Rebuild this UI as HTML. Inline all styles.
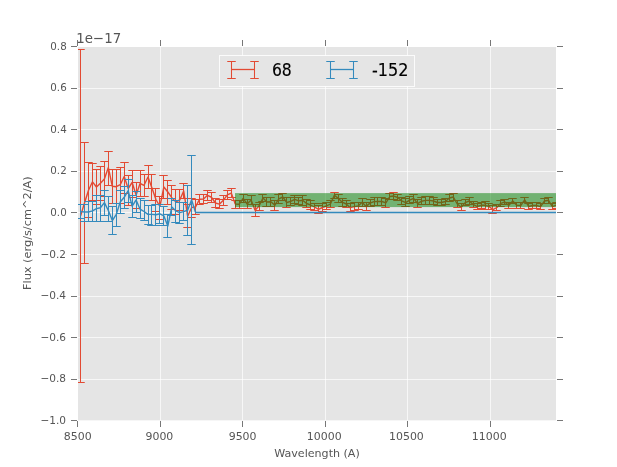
<!DOCTYPE html>
<html lang="en">
<head>
<meta charset="utf-8">
<title>Flux vs Wavelength</title>
<style>
html,body{margin:0;padding:0;background:#fff;}
body{width:617px;height:467px;overflow:hidden;}
svg{display:block;}
text{font-family:"DejaVu Sans", "Liberation Sans", sans-serif;}
.tick{font-size:10.75px;fill:#555555;}
.lab{font-size:11.1px;fill:#555555;}
.ylab{font-size:10.9px;fill:#555555;}
.off{font-size:14.3px;fill:#555555;}
.leg{font-size:17.4px;fill:#000000;stroke:#000000;stroke-width:0.15px;}
</style>
</head>
<body>
<svg width="617" height="467" viewBox="0 0 617 467">
<defs><clipPath id="axclip"><rect x="78" y="47" width="478" height="373.35"/></clipPath>
</defs>
<rect width="617" height="467" fill="#ffffff"/>
<g>
<rect x="78" y="47" width="478" height="373.35" fill="#E5E5E5"/>
<path clip-path="url(#axclip)" d="M160.5 47V420.35M242.5 47V420.35M325.5 47V420.35M407.5 47V420.35M490.5 47V420.35M78 88.5H556M78 129.5H556M78 171.5H556M78 212.5H556M78 254.5H556M78 296.5H556M78 337.5H556M78 379.5H556" stroke="#ffffff" stroke-opacity="0.7" stroke-width="1" fill="none"/>
<path d="M77.5 421v6M77.5 46v-6M160.5 421v6M160.5 46v-6M242.5 421v6M242.5 46v-6M325.5 421v6M325.5 46v-6M407.5 421v6M407.5 46v-6M490.5 421v6M490.5 46v-6M77 46.5h-6M557 46.5h6M77 88.5h-6M557 88.5h6M77 129.5h-6M557 129.5h6M77 171.5h-6M557 171.5h6M77 212.5h-6M557 212.5h6M77 254.5h-6M557 254.5h6M77 296.5h-6M557 296.5h6M77 337.5h-6M557 337.5h6M77 379.5h-6M557 379.5h6M77 420.5h-6M557 420.5h6" stroke="#555555" stroke-opacity="0.8" stroke-width="1" fill="none"/>
<g clip-path="url(#axclip)" fill="none" stroke="#E24A33">
<polyline stroke-width="1.4" stroke-linejoin="round" points="80.6,215.9 84.56,202.8 88.53,190.3 92.49,181.8 96.46,187 100.42,183.3 104.39,179 108.35,167.6 112.32,186.3 116.28,186.7 120.25,184.7 124.21,176.5 128.18,188.5 132.14,182.5 136.11,195 140.07,183.5 144.04,185.3 148,177 151.97,188 155.94,199.5 159.9,206.5 163.87,187 167.83,192 171.79,197.7 175.76,201.8 179.72,200 183.69,191 187.65,216.2 191.62,207.5 195.58,206.9 199.55,199.2 203.51,199 207.48,195.3 211.44,197.25 215.41,203 219.38,204.2 223.34,200.3 227.3,194.9 231.27,193.05 235.23,204.1 239.2,204.2 243.16,198.35 247.13,204 251.09,200.1 255.06,210.3 259.02,206 262.99,198 266.95,202 270.92,201.8 274.88,205.2 278.85,198.9 282.81,197 286.78,202.5 290.75,201.4 294.71,199.3 298.67,200.9 302.64,200.3 306.61,203.5 310.57,205 314.53,207 318.5,209.3 322.46,207.5 326.43,206 330.39,204 334.36,195.2 338.32,198.4 342.29,202.2 346.25,204 350.22,207.7 354.18,206.6 358.15,206 362.12,202.3 366.08,206.4 370.04,203.1 374.01,201.6 377.98,201.5 381.94,201.5 385.9,202.9 389.87,196.5 393.84,196.05 397.8,197.5 401.76,200.9 405.73,202.6 409.69,200.1 413.66,198.4 417.62,203.6 421.59,201.2 425.55,200.4 429.52,200.4 433.49,201 437.45,202.5 441.41,202.5 445.38,201.5 449.35,198 453.31,197 457.27,204 461.24,207.2 465.2,202.6 469.17,201 473.13,204.35 477.1,206.5 481.06,205.3 485.03,205.3 489,206.45 492.96,209.6 496.92,207.5 500.89,203.3 504.86,201.9 508.82,205.4 512.78,201 516.75,205.3 520.72,205.5 524.68,199.9 528.64,206.5 532.61,205.5 536.57,205.5 540.54,206.6 544.5,201 548.47,200.3 552.43,206.6 556.4,205.2"/>
<path stroke-width="1.05" d="M80.5 49.5V382.5M84.5 142.5V263.5M88.5 162.5V217.5M92.5 163.5V200.5M96.5 169.5V204.5M100.5 166.5V200.5M104.5 161.5V196.5M108.5 151.5V185.5M112.5 169.5V203.5M116.5 169.5V203.5M120.5 167.5V203.5M124.5 162.5V193.5M128.5 175.5V205.5M132.5 170.5V197.5M136.5 182.5V208.5M140.5 170.5V196.5M144.5 174.5V196.5M148.5 165.5V188.5M151.5 174.5V200.5M155.5 188.5V211.5M159.5 196.5V219.5M163.5 175.5V198.5M167.5 180.5V204.5M171.5 185.5V209.5M175.5 189.5V214.5M179.5 189.5V210.5M183.5 183.5V198.5M187.5 204.5V227.5M191.5 198.5V217.5M195.5 199.5V214.5M199.5 194.5V204.5M203.5 194.5V203.5M207.5 190.5V200.5M211.5 192.5V202.5M215.5 198.5V207.5M219.5 199.5V208.5M223.5 195.5V205.5M227.5 190.5V199.5M231.5 188.5V197.5M235.5 200.5V208.5M239.5 200.5V208.5M243.5 194.5V202.5M247.5 199.5V208.5M251.5 195.5V204.5M255.5 204.5V216.5M259.5 202.5V210.5M262.5 194.5V201.5M266.5 197.5V206.5M270.5 197.5V206.5M274.5 200.5V210.5M278.5 194.5V203.5M282.5 193.5V200.5M286.5 197.5V207.5M290.5 197.5V205.5M294.5 195.5V203.5M298.5 197.5V204.5M302.5 195.5V205.5M306.5 199.5V207.5M310.5 200.5V209.5M314.5 203.5V210.5M318.5 205.5V213.5M322.5 203.5V211.5M326.5 202.5V209.5M330.5 200.5V207.5M334.5 192.5V198.5M338.5 194.5V202.5M342.5 198.5V206.5M346.5 200.5V207.5M350.5 203.5V211.5M354.5 202.5V210.5M358.5 202.5V209.5M362.5 198.5V206.5M366.5 202.5V210.5M370.5 199.5V206.5M374.5 197.5V205.5M377.5 197.5V205.5M381.5 197.5V205.5M385.5 198.5V207.5M389.5 193.5V199.5M393.5 192.5V199.5M397.5 194.5V200.5M401.5 197.5V204.5M405.5 198.5V206.5M409.5 196.5V203.5M413.5 194.5V202.5M417.5 199.5V207.5M421.5 197.5V204.5M425.5 196.5V204.5M429.5 196.5V204.5M433.5 197.5V204.5M437.5 199.5V205.5M441.5 199.5V205.5M445.5 198.5V204.5M449.5 194.5V201.5M453.5 193.5V200.5M457.5 200.5V207.5M461.5 203.5V210.5M465.5 199.5V205.5M469.5 197.5V204.5M473.5 201.5V207.5M477.5 203.5V209.5M481.5 202.5V208.5M485.5 201.5V209.5M488.5 203.5V209.5M492.5 205.5V213.5M496.5 204.5V210.5M500.5 200.5V206.5M504.5 199.5V204.5M508.5 202.5V208.5M512.5 198.5V203.5M516.5 202.5V208.5M520.5 202.5V208.5M524.5 197.5V202.5M528.5 203.5V209.5M532.5 202.5V208.5M536.5 202.5V208.5M540.5 203.5V209.5M544.5 198.5V203.5M548.5 197.5V203.5M552.5 203.5V209.5M556.5 202.5V208.5"/>
<path stroke-width="1.05" d="M76.25 49.5H84.75M76.25 382.5H84.75M80.25 142.5H88.75M80.25 263.5H88.75M84.25 162.5H92.75M84.25 217.5H92.75M88.25 163.5H96.75M88.25 200.5H96.75M92.25 169.5H100.75M92.25 204.5H100.75M96.25 166.5H104.75M96.25 200.5H104.75M100.25 161.5H108.75M100.25 196.5H108.75M104.25 151.5H112.75M104.25 185.5H112.75M108.25 169.5H116.75M108.25 203.5H116.75M112.25 169.5H120.75M112.25 203.5H120.75M116.25 167.5H124.75M116.25 203.5H124.75M120.25 162.5H128.75M120.25 193.5H128.75M124.25 175.5H132.75M124.25 205.5H132.75M128.25 170.5H136.75M128.25 197.5H136.75M132.25 182.5H140.75M132.25 208.5H140.75M136.25 170.5H144.75M136.25 196.5H144.75M140.25 174.5H148.75M140.25 196.5H148.75M144.25 165.5H152.75M144.25 188.5H152.75M147.25 174.5H155.75M147.25 200.5H155.75M151.25 188.5H159.75M151.25 211.5H159.75M155.25 196.5H163.75M155.25 219.5H163.75M159.25 175.5H167.75M159.25 198.5H167.75M163.25 180.5H171.75M163.25 204.5H171.75M167.25 185.5H175.75M167.25 209.5H175.75M171.25 189.5H179.75M171.25 214.5H179.75M175.25 189.5H183.75M175.25 210.5H183.75M179.25 183.5H187.75M179.25 198.5H187.75M183.25 204.5H191.75M183.25 227.5H191.75M187.25 198.5H195.75M187.25 217.5H195.75M191.25 199.5H199.75M191.25 214.5H199.75M195.25 194.5H203.75M195.25 204.5H203.75M199.25 194.5H207.75M199.25 203.5H207.75M203.25 190.5H211.75M203.25 200.5H211.75M207.25 192.5H215.75M207.25 202.5H215.75M211.25 198.5H219.75M211.25 207.5H219.75M215.25 199.5H223.75M215.25 208.5H223.75M219.25 195.5H227.75M219.25 205.5H227.75M223.25 190.5H231.75M223.25 199.5H231.75M227.25 188.5H235.75M227.25 197.5H235.75M231.25 200.5H239.75M231.25 208.5H239.75M235.25 200.5H243.75M235.25 208.5H243.75M239.25 194.5H247.75M239.25 202.5H247.75M243.25 199.5H251.75M243.25 208.5H251.75M247.25 195.5H255.75M247.25 204.5H255.75M251.25 204.5H259.75M251.25 216.5H259.75M255.25 202.5H263.75M255.25 210.5H263.75M258.25 194.5H266.75M258.25 201.5H266.75M262.25 197.5H270.75M262.25 206.5H270.75M266.25 197.5H274.75M266.25 206.5H274.75M270.25 200.5H278.75M270.25 210.5H278.75M274.25 194.5H282.75M274.25 203.5H282.75M278.25 193.5H286.75M278.25 200.5H286.75M282.25 197.5H290.75M282.25 207.5H290.75M286.25 197.5H294.75M286.25 205.5H294.75M290.25 195.5H298.75M290.25 203.5H298.75M294.25 197.5H302.75M294.25 204.5H302.75M298.25 195.5H306.75M298.25 205.5H306.75M302.25 199.5H310.75M302.25 207.5H310.75M306.25 200.5H314.75M306.25 209.5H314.75M310.25 203.5H318.75M310.25 210.5H318.75M314.25 205.5H322.75M314.25 213.5H322.75M318.25 203.5H326.75M318.25 211.5H326.75M322.25 202.5H330.75M322.25 209.5H330.75M326.25 200.5H334.75M326.25 207.5H334.75M330.25 192.5H338.75M330.25 198.5H338.75M334.25 194.5H342.75M334.25 202.5H342.75M338.25 198.5H346.75M338.25 206.5H346.75M342.25 200.5H350.75M342.25 207.5H350.75M346.25 203.5H354.75M346.25 211.5H354.75M350.25 202.5H358.75M350.25 210.5H358.75M354.25 202.5H362.75M354.25 209.5H362.75M358.25 198.5H366.75M358.25 206.5H366.75M362.25 202.5H370.75M362.25 210.5H370.75M366.25 199.5H374.75M366.25 206.5H374.75M370.25 197.5H378.75M370.25 205.5H378.75M373.25 197.5H381.75M373.25 205.5H381.75M377.25 197.5H385.75M377.25 205.5H385.75M381.25 198.5H389.75M381.25 207.5H389.75M385.25 193.5H393.75M385.25 199.5H393.75M389.25 192.5H397.75M389.25 199.5H397.75M393.25 194.5H401.75M393.25 200.5H401.75M397.25 197.5H405.75M397.25 204.5H405.75M401.25 198.5H409.75M401.25 206.5H409.75M405.25 196.5H413.75M405.25 203.5H413.75M409.25 194.5H417.75M409.25 202.5H417.75M413.25 199.5H421.75M413.25 207.5H421.75M417.25 197.5H425.75M417.25 204.5H425.75M421.25 196.5H429.75M421.25 204.5H429.75M425.25 196.5H433.75M425.25 204.5H433.75M429.25 197.5H437.75M429.25 204.5H437.75M433.25 199.5H441.75M433.25 205.5H441.75M437.25 199.5H445.75M437.25 205.5H445.75M441.25 198.5H449.75M441.25 204.5H449.75M445.25 194.5H453.75M445.25 201.5H453.75M449.25 193.5H457.75M449.25 200.5H457.75M453.25 200.5H461.75M453.25 207.5H461.75M457.25 203.5H465.75M457.25 210.5H465.75M461.25 199.5H469.75M461.25 205.5H469.75M465.25 197.5H473.75M465.25 204.5H473.75M469.25 201.5H477.75M469.25 207.5H477.75M473.25 203.5H481.75M473.25 209.5H481.75M477.25 202.5H485.75M477.25 208.5H485.75M481.25 201.5H489.75M481.25 209.5H489.75M484.25 203.5H492.75M484.25 209.5H492.75M488.25 205.5H496.75M488.25 213.5H496.75M492.25 204.5H500.75M492.25 210.5H500.75M496.25 200.5H504.75M496.25 206.5H504.75M500.25 199.5H508.75M500.25 204.5H508.75M504.25 202.5H512.75M504.25 208.5H512.75M508.25 198.5H516.75M508.25 203.5H516.75M512.25 202.5H520.75M512.25 208.5H520.75M516.25 202.5H524.75M516.25 208.5H524.75M520.25 197.5H528.75M520.25 202.5H528.75M524.25 203.5H532.75M524.25 209.5H532.75M528.25 202.5H536.75M528.25 208.5H536.75M532.25 202.5H540.75M532.25 208.5H540.75M536.25 203.5H544.75M536.25 209.5H544.75M540.25 198.5H548.75M540.25 203.5H548.75M544.25 197.5H552.75M544.25 203.5H552.75M548.25 203.5H556.75M548.25 209.5H556.75M552.25 202.5H560.75M552.25 208.5H560.75"/>
</g>
<g clip-path="url(#axclip)" fill="none" stroke="#348ABD">
<polyline stroke-width="1.4" stroke-linejoin="round" points="80.6,211.6 84.56,212 88.53,212 92.49,210.8 96.46,208.6 100.42,207.7 104.39,202.6 108.35,210.5 112.32,220.6 116.28,214.3 120.25,202 124.21,197.3 128.18,190.7 132.14,206.2 136.11,200 140.07,209.2 144.04,211.5 148,214.4 151.97,214.4 155.94,214.7 159.9,213.8 163.87,215.9 167.83,226.1 171.79,207 175.76,210.8 179.72,212.7 183.69,211.6 187.65,210.2 191.62,199.85 195.58,212.5 199.55,212.5 203.51,212.5 207.48,212.5 211.44,212.5 215.41,212.5 219.38,212.5 223.34,212.5 227.3,212.5 231.27,212.5 235.23,212.5 239.2,212.5 243.16,212.5 247.13,212.5 251.09,212.5 255.06,212.5 259.02,212.5 262.99,212.5 266.95,212.5 270.92,212.5 274.88,212.5 278.85,212.5 282.81,212.5 286.78,212.5 290.75,212.5 294.71,212.5 298.67,212.5 302.64,212.5 306.61,212.5 310.57,212.5 314.53,212.5 318.5,212.5 322.46,212.5 326.43,212.5 330.39,212.5 334.36,212.5 338.32,212.5 342.29,212.5 346.25,212.5 350.22,212.5 354.18,212.5 358.15,212.5 362.12,212.5 366.08,212.5 370.04,212.5 374.01,212.5 377.98,212.5 381.94,212.5 385.9,212.5 389.87,212.5 393.84,212.5 397.8,212.5 401.76,212.5 405.73,212.5 409.69,212.5 413.66,212.5 417.62,212.5 421.59,212.5 425.55,212.5 429.52,212.5 433.49,212.5 437.45,212.5 441.41,212.5 445.38,212.5 449.35,212.5 453.31,212.5 457.27,212.5 461.24,212.5 465.2,212.5 469.17,212.5 473.13,212.5 477.1,212.5 481.06,212.5 485.03,212.5 489,212.5 492.96,212.5 496.92,212.5 500.89,212.5 504.86,212.5 508.82,212.5 512.78,212.5 516.75,212.5 520.72,212.5 524.68,212.5 528.64,212.5 532.61,212.5 536.57,212.5 540.54,212.5 544.5,212.5 548.47,212.5 552.43,212.5 556.4,212.5"/>
<path stroke-width="1.05" d="M80.5 204.5V218.5M84.5 204.5V221.5M88.5 201.5V221.5M92.5 201.5V221.5M96.5 195.5V221.5M100.5 195.5V221.5M104.5 190.5V215.5M108.5 196.5V221.5M112.5 206.5V234.5M116.5 203.5V226.5M120.5 190.5V213.5M124.5 186.5V208.5M128.5 179.5V202.5M132.5 195.5V217.5M136.5 191.5V212.5M140.5 198.5V218.5M144.5 200.5V220.5M148.5 205.5V224.5M151.5 205.5V225.5M155.5 204.5V225.5M159.5 204.5V223.5M163.5 206.5V225.5M167.5 214.5V237.5M171.5 198.5V215.5M175.5 200.5V222.5M179.5 202.5V223.5M183.5 202.5V220.5M187.5 185.5V235.5M191.5 155.5V244.5"/>
<path stroke-width="1.05" d="M76.25 204.5H84.75M76.25 218.5H84.75M80.25 204.5H88.75M80.25 221.5H88.75M84.25 201.5H92.75M84.25 221.5H92.75M88.25 201.5H96.75M88.25 221.5H96.75M92.25 195.5H100.75M92.25 221.5H100.75M96.25 195.5H104.75M96.25 221.5H104.75M100.25 190.5H108.75M100.25 215.5H108.75M104.25 196.5H112.75M104.25 221.5H112.75M108.25 206.5H116.75M108.25 234.5H116.75M112.25 203.5H120.75M112.25 226.5H120.75M116.25 190.5H124.75M116.25 213.5H124.75M120.25 186.5H128.75M120.25 208.5H128.75M124.25 179.5H132.75M124.25 202.5H132.75M128.25 195.5H136.75M128.25 217.5H136.75M132.25 191.5H140.75M132.25 212.5H140.75M136.25 198.5H144.75M136.25 218.5H144.75M140.25 200.5H148.75M140.25 220.5H148.75M144.25 205.5H152.75M144.25 224.5H152.75M147.25 205.5H155.75M147.25 225.5H155.75M151.25 204.5H159.75M151.25 225.5H159.75M155.25 204.5H163.75M155.25 223.5H163.75M159.25 206.5H167.75M159.25 225.5H167.75M163.25 214.5H171.75M163.25 237.5H171.75M167.25 198.5H175.75M167.25 215.5H175.75M171.25 200.5H179.75M171.25 222.5H179.75M175.25 202.5H183.75M175.25 223.5H183.75M179.25 202.5H187.75M179.25 220.5H187.75M183.25 185.5H191.75M183.25 235.5H191.75M187.25 155.5H195.75M187.25 244.5H195.75"/>
</g>
<rect x="235" y="193.1" width="321" height="14" fill="#008000" fill-opacity="0.5"/>
<rect x="219.5" y="55.5" width="195" height="31" fill="#E5E5E5" stroke="#ffffff" stroke-opacity="0.85" stroke-width="1"/>
<g stroke="#E24A33" fill="none"><path stroke-width="1.3" d="M231.5 69.5H254.5"/><path stroke-width="1.05" d="M231.5 61.5V78.5M254.5 61.5V78.5"/><path stroke-width="1.05" d="M227.25 61.5H235.75M227.25 78.5H235.75M250.25 61.5H258.75M250.25 78.5H258.75"/></g>
<g stroke="#348ABD" fill="none"><path stroke-width="1.3" d="M330.5 69.5H353.5"/><path stroke-width="1.05" d="M330.5 61.5V78.5M353.5 61.5V78.5"/><path stroke-width="1.05" d="M326.25 61.5H334.75M326.25 78.5H334.75M349.25 61.5H357.75M349.25 78.5H357.75"/></g>
</g>
<g>
<text class="leg" transform="translate(271.9 75.9) scale(0.900 1.000)">68</text>
<text class="leg" transform="translate(371.9 75.9) scale(0.925 1.000)">-152</text>
<text class="tick" text-anchor="middle" transform="translate(77.7 439.5) scale(1.020 1.000)">8500</text>
<text class="tick" text-anchor="middle" transform="translate(159.4 439.5) scale(1.020 1.000)">9000</text>
<text class="tick" text-anchor="middle" transform="translate(242.6 439.5) scale(1.020 1.000)">9500</text>
<text class="tick" text-anchor="middle" transform="translate(324.2 439.5) scale(1.020 1.000)">10000</text>
<text class="tick" text-anchor="middle" transform="translate(406.4 439.5) scale(1.020 1.000)">10500</text>
<text class="tick" text-anchor="middle" transform="translate(489.2 439.5) scale(1.020 1.000)">11000</text>
<text class="tick" text-anchor="end" transform="translate(66.7 49.7) scale(0.960 1.000)">0.8</text>
<text class="tick" text-anchor="end" transform="translate(66.7 90.7) scale(0.960 1.000)">0.6</text>
<text class="tick" text-anchor="end" transform="translate(66.7 132.7) scale(0.960 1.000)">0.4</text>
<text class="tick" text-anchor="end" transform="translate(66.7 173.7) scale(0.960 1.000)">0.2</text>
<text class="tick" text-anchor="end" transform="translate(66.7 215.7) scale(0.960 1.000)">0.0</text>
<text class="tick" text-anchor="end" transform="translate(66.1 257.7) scale(0.985 1.000)">−0.2</text>
<text class="tick" text-anchor="end" transform="translate(66.1 298.7) scale(0.985 1.000)">−0.4</text>
<text class="tick" text-anchor="end" transform="translate(66.1 340.7) scale(0.985 1.000)">−0.6</text>
<text class="tick" text-anchor="end" transform="translate(66.1 381.7) scale(0.985 1.000)">−0.8</text>
<text class="tick" text-anchor="end" transform="translate(66.1 423.7) scale(0.985 1.000)">−1.0</text>
<text class="off" transform="translate(76.3 42.7) scale(0.937 1.000)">1e−17</text>
<text class="lab" text-anchor="middle" transform="translate(317 457.3)">Wavelength (A)</text>
<text class="ylab" text-anchor="middle" transform="translate(31 233.2) rotate(-90) scale(1.040 1.000)">Flux (erg/s/cm^2/A)</text>
</g>
</svg>
</body>
</html>
